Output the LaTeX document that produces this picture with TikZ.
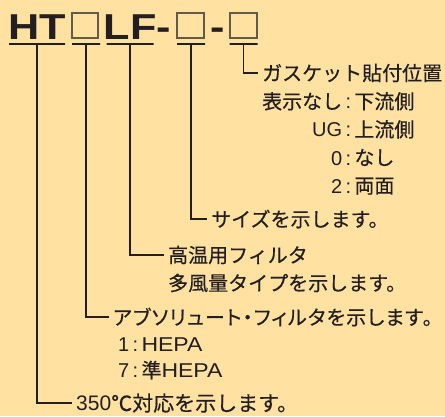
\documentclass[tikz,border=0pt]{standalone}
\usepackage{fontspec}
\usepackage{tikz}
\usetikzlibrary{positioning}
\usepackage{xcolor}
\newfontfamily\jpfont[FakeBold=0.4]{Noto Sans CJK JP}
\newfontfamily\jpnarrow[RawFeature=+palt, LetterSpace=6, FakeBold=0.4]{Noto Sans CJK JP}
\newfontfamily\latin{Liberation Sans}
\newfontfamily\latinwide[FakeStretch=1.15]{Liberation Sans}
\newfontfamily\codefont[FakeStretch=1.2]{Liberation Sans Bold}
\definecolor{htbg}{RGB}{255,225,162}
\definecolor{htblack}{RGB}{35,30,32}
\definecolor{htbox}{RGB}{100,90,74}
\tikzstyle{code} = [anchor=base, inner sep=0pt, font=\codefont\fontsize{36}{40}\selectfont, text=htblack]
\tikzstyle{blank} = [rectangle, draw=htbox, line width=1.6pt, minimum width=26.5pt, minimum height=25.5pt, inner sep=0pt]
\tikzstyle{slot} = [rectangle, draw=htblack, line width=1.6pt, minimum height=0pt, inner sep=0pt, outer sep=0pt]
\tikzstyle{leader} = [draw=htblack, line width=1.2pt]
\tikzstyle{note} = [anchor=west, inner sep=4pt, text=htblack, font=\jpfont\fontsize{20}{24}\selectfont]
\newcommand{\sep}{\,{\latin:}\,}

\begin{document}
\begin{tikzpicture}[x=1pt, y=-1pt]
\useasboundingbox[fill=htbg] (0,0) rectangle (445,416);

% Model code
\node[code] (ht) at (37,39) {HT};
\node[blank] (sq1) at (85,25.5) {};
\node[code] (lf) at (130,39) {LF};
\node[code] (dash1) at (164,39) {-};
\node[blank] (sq2) at (190.5,25.5) {};
\node[code] (dash2) at (218,39) {-};
\node[blank] (sq3) at (243.5,25.5) {};

% Underlines
\node[slot, minimum width=56pt] (htline) at (37,44) {};
\node[slot, minimum width=28pt] (sq1line) at (86,44) {};
\node[slot, minimum width=47pt] (lfline) at (130,44) {};
\node[slot, minimum width=28pt] (sq2line) at (191,44) {};
\node[slot, minimum width=28pt] (sq3line) at (243.5,44) {};

% Notes
\node[note] (gasket) at (258,73) {ガスケット貼付位置};
\node[note, anchor=north west] (gasketlist) at (258,85) {\renewcommand{\arraystretch}{1.17}%
  \begin{tabular}{@{}r@{\sep}l@{}}
  表示なし & 下流側\\
  {\latin UG} & 上流側\\
  {\latin 0} & なし\\
  {\latin 2} & 両面
  \end{tabular}};
\node[note] (size) at (207,219) {サイズを示します。};
\node[note] (filt) at (164,255) {高温用フィルタ};
\node[note] (filt2) at (164,283) {多風量タイプを示します。};
\node[note] (abs) at (109,317) {\jpnarrow アブソリュート・フィルタを示します。};
\node[note] (hepa1) at (114,345) {{\latin 1}\sep{\latinwide HEPA}};
\node[note] (hepa7) at (114,370) {{\latin 7}\sep 準{\latinwide HEPA}};
\node[note, font=\jpfont\fontsize{21}{24}\selectfont] (t350) at (72,403) {{\latin 350}℃対応を示します。};

% Leaders
\draw[leader] (sq3line.south) |- (gasket.west);
\draw[leader] (sq2line.south) |- (size.west);
\draw[leader] (lfline.south) |- (filt.west);
\draw[leader] (sq1line.south) |- (abs.west);
\draw[leader] (htline.south) |- (t350.west);
\end{tikzpicture}
\end{document}
